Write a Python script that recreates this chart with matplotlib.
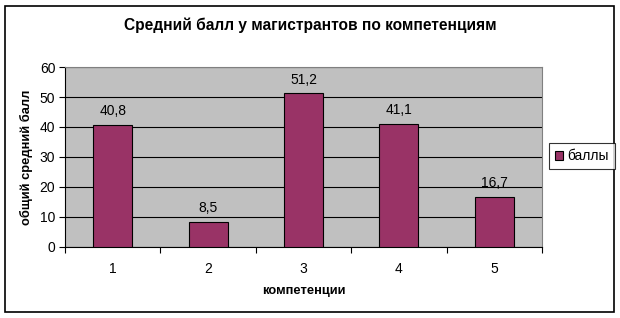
import matplotlib.pyplot as plt
from matplotlib.patches import Rectangle

plt.rcParams['font.family'] = ['Liberation Sans', 'DejaVu Sans']

categories = ['1', '2', '3', '4', '5']
values = [40.8, 8.5, 51.2, 41.1, 16.7]
value_labels = ['40,8', '8,5', '51,2', '41,1', '16,7']
y_ticks = [0, 10, 20, 30, 40, 50, 60]

fig = plt.figure(figsize=(6.2, 3.18), dpi=100)
fig.patches.append(Rectangle((5 / 620, 6 / 318), 609 / 620, 306 / 318,
                             transform=fig.transFigure, fill=False,
                             edgecolor='black', linewidth=1.2))

ax = fig.add_axes([65 / 620, (318 - 247) / 318, 477 / 620, 180 / 318])
ax.set_facecolor('#c0c0c0')

x = list(range(len(categories)))
bars = ax.bar(x, values, width=0.41, color='#993366', edgecolor='black',
              linewidth=0.8, label='баллы', zorder=3)
for xi, v, lab in zip(x, values, value_labels):
    ax.text(xi, v + 2.2, lab, ha='center', va='bottom', fontsize=10)

ax.set_xlim(-0.5, 4.5)
ax.set_ylim(0, 60)
ax.set_yticks(y_ticks)
ax.yaxis.grid(True, color='black', linewidth=0.8, zorder=0)
ax.set_axisbelow(True)

# Excel-style: ticks between categories, labels centred
ax.set_xticks([i - 0.5 for i in range(6)])
ax.set_xticklabels([])
ax.set_xticks(x, minor=True)
ax.set_xticklabels(categories, minor=True, fontsize=10)
ax.tick_params(axis='x', which='minor', length=0, pad=11)
ax.tick_params(axis='x', which='major', length=4, width=0.8, direction='out')
ax.tick_params(axis='y', length=4, width=0.8, labelsize=10, pad=3)

for side in ['top', 'right']:
    ax.spines[side].set_color('#808080')
    ax.spines[side].set_linewidth(0.8)
for side in ['left', 'bottom']:
    ax.spines[side].set_color('black')
    ax.spines[side].set_linewidth(0.8)

ax.set_xlabel('компетенции', fontsize=9.3, fontweight='bold', labelpad=6)
ax.set_ylabel('общий средний балл', fontsize=9.3, fontweight='bold', labelpad=5)

fig.text(0.5, 1 - 25 / 318, 'Средний балл у магистрантов по компетенциям',
         ha='center', va='center', fontsize=11.2, fontweight='bold')

leg = fig.legend(handles=[bars], labels=['баллы'], loc='center',
                 bbox_to_anchor=(582 / 620, 1 - 156 / 318), fontsize=10,
                 frameon=True, fancybox=False, edgecolor='black',
                 handlelength=0.6, handleheight=0.6, handletextpad=0.3,
                 borderpad=0.4, borderaxespad=0)
leg.get_frame().set_linewidth(0.8)

fig.savefig('out.png', dpi=100)
